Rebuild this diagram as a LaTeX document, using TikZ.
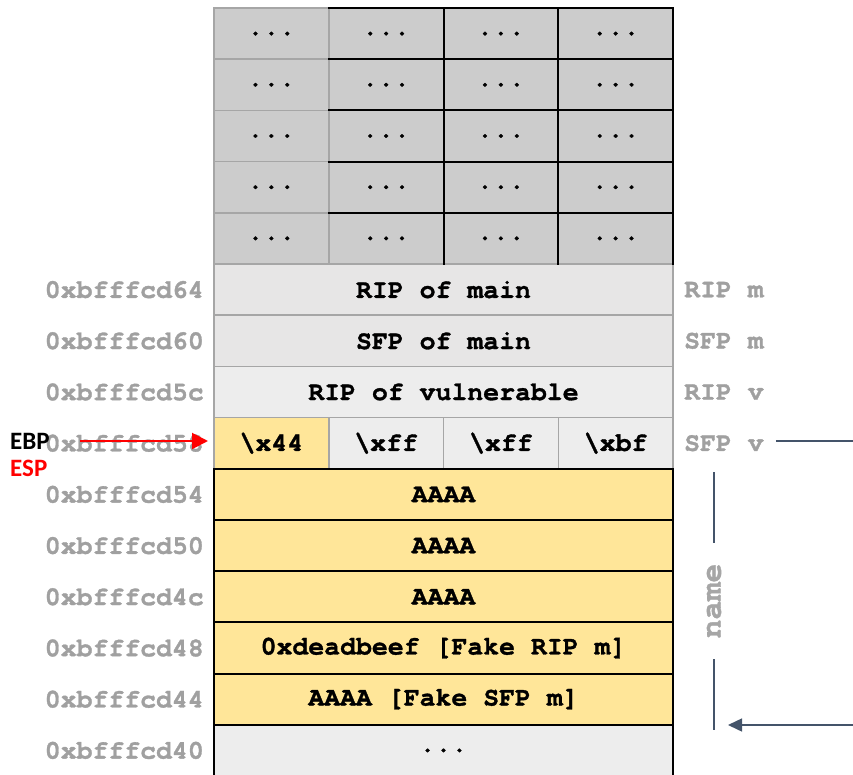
\documentclass[tikz,border=0pt]{standalone}
\usepackage{fontspec}
\setmonofont{TeX Gyre Cursor}[Ligatures={NoCommon,NoRequired,NoContextual}, BoldFeatures={FakeBold=1.2}]
\newfontfamily\calib{Carlito}
\usetikzlibrary{arrows.meta}
\definecolor{cgray}{HTML}{CCCCCC}
\definecolor{clight}{HTML}{E7E6E6}
\definecolor{clightb}{HTML}{EDEDED}
\definecolor{cyel}{HTML}{FFE699}
\definecolor{ctxt}{HTML}{A0A0A0}
\definecolor{cslate}{HTML}{44546A}
\definecolor{cline}{HTML}{A6A6A6}
\begin{document}
\begin{tikzpicture}[x=1pt,y=-1pt,
  cell/.style={draw=cline, line width=1.5pt, minimum height=51.2pt, inner sep=0pt, outer sep=0pt,
    font=\ttfamily\bfseries\fontsize{26.5}{30}\selectfont, text=black},
  qcell/.style={cell, minimum width=114.75pt},
  wcell/.style={cell, minimum width=459pt},
  addr/.style={anchor=east, inner sep=0pt, text=ctxt, font=\ttfamily\bfseries\fontsize{26.5}{30}\selectfont},
  side/.style={anchor=west, inner sep=0pt, text=ctxt, font=\ttfamily\bfseries\fontsize{26.5}{30}\selectfont},
  blk/.style={line width=2pt, black, line cap=rect},
  slate/.style={line width=1.5pt, cslate},
  reg/.style={anchor=west, inner sep=0pt, font=\calib\bfseries\fontsize{25}{28}\selectfont},
]
\useasboundingbox (0,0) rectangle (853,775);

% gray region
\foreach \r in {0,...,4}{
  \foreach \c in {0,...,3}{
    \node[qcell, fill=cgray] (g\r\c) at ({271.375+114.75*\c},{33.6+51.2*\r}) {...};
  }
}
% wide rows
\node[wcell, fill=clight] (r5) at (443.5,289.6) {RIP of main};
\node[wcell, fill=clight] (r6) at (443.5,340.8) {SFP of main};
\node[wcell, fill=clightb] (r7) at (443.5,392) {RIP of vulnerable};
% row 8
\node[qcell, fill=cyel] (c80) at (271.375,443.2) {\textbackslash x44};
\node[qcell, fill=clightb] (c81) at (386.125,443.2) {\textbackslash xff};
\node[qcell, fill=clightb] (c82) at (500.875,443.2) {\textbackslash xff};
\node[qcell, fill=clightb] (c83) at (615.625,443.2) {\textbackslash xbf};
% yellow rows
\node[wcell, fill=cyel, draw=black, line width=2pt] (r9) at (443.5,494.4) {AAAA};
\node[wcell, fill=cyel, draw=black, line width=2pt] (r10) at (443.5,545.6) {AAAA};
\node[wcell, fill=cyel, draw=black, line width=2pt] (r11) at (443.5,596.8) {AAAA};
\node[wcell, fill=cyel, draw=black, line width=2pt] (r12) at (443.5,648) {0xdeadbeef [Fake RIP m]};
\node[wcell, fill=cyel, draw=black, line width=2pt] (r13) at (443.5,699.2) {AAAA [Fake SFP m]};
\node[wcell, fill=clightb, draw=none] (r14) at (443.5,750.4) {...};
\draw[blk] (r14.south west) -- (r14.north west) -- (r14.north east) -- (r14.south east);

% black lines of gray region
\foreach \r in {0,...,4}{
  \draw[blk] (g\r1.north west) -- (g\r3.north east);
}
\draw[blk] (g02.north west) -- (g42.south west);
\draw[blk] (g03.north west) -- (g43.south west);
\draw[blk] (g03.north east) -- (g43.south east);

% addresses
\node[addr] (a5) at (204,289.6) {0xbfffcd64};
\node[addr] (a6) at (204,340.8) {0xbfffcd60};
\node[addr] (a7) at (204,392) {0xbfffcd5c};
\node[addr] (a8) at (204,443.2) {0xbfffcd58};
\node[addr] (a9) at (204,494.4) {0xbfffcd54};
\node[addr] (a10) at (204,545.6) {0xbfffcd50};
\node[addr] (a11) at (204,596.8) {0xbfffcd4c};
\node[addr] (a12) at (204,648) {0xbfffcd48};
\node[addr] (a13) at (204,699.2) {0xbfffcd44};
\node[addr] (a14) at (204,750.4) {0xbfffcd40};

% side labels
\node[side] (s5) at (684,289.6) {RIP m};
\node[side] (s6) at (684,340.8) {SFP m};
\node[side] (s7) at (684,392) {RIP v};
\node[side] (s8) at (684,443.2) {SFP v};

% registers
\node[reg, text=black] (ebp) at (10,441) {EBP};
\node[reg, text=red] (esp) at (10,468) {ESP};
\coordinate (ebps) at (80,441);
\draw[red, line width=2pt, -{Triangle[length=16pt,width=16pt]}] (ebps) -- (ebps -| c80.west) [shorten >=6pt];

% right side connectors
\coordinate (sfpend) at (853,441);
\draw[slate] (sfpend -| s8.east) ++(12,0) -- (sfpend);
\node[rotate=90, inner xsep=21pt, inner ysep=0pt, text=cline,
  font=\ttfamily\bfseries\fontsize{31}{34}\selectfont] (nm) at (714,601) {name};
\coordinate (bt) at (714,472);
\coordinate (bb) at (714,730);
\draw[slate] (bt) -- (bt |- nm.east);
\draw[slate] (bb |- nm.west) -- (bb);
\coordinate (arrs) at (853,725);
\coordinate (arre) at (728,725);
\draw[slate, -{Triangle[length=14pt,width=13pt]}] (arrs) -- (arre);
\end{tikzpicture}
\end{document}
